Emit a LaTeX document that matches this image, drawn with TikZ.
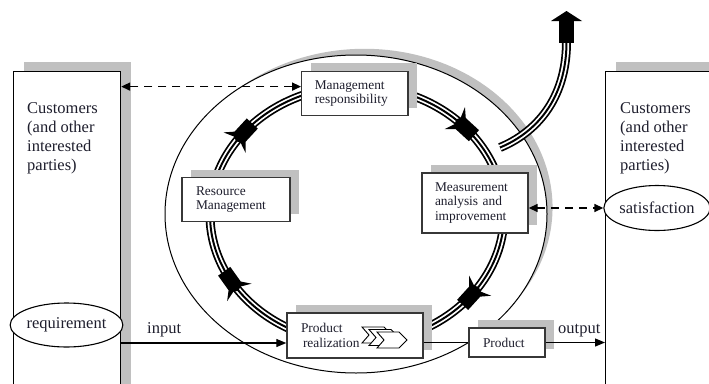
\documentclass[tikz,border=0pt]{standalone}
\usepackage{fontspec}
\setmainfont{Liberation Serif}
\usetikzlibrary{arrows.meta,shadows,shapes.geometric,calc}
\definecolor{shadowgray}{RGB}{192,192,192}
\definecolor{txt}{RGB}{30,30,45}
\definecolor{boxline}{RGB}{55,55,55}
\begin{document}
\begin{tikzpicture}[x=1pt,y=-1pt,
  shd/.style={drop shadow={shadow xshift=9pt, shadow yshift=8pt, fill=shadowgray, opacity=1}},
  procbox/.style={shd, draw=boxline, line width=1.4pt, fill=white, font=\fontsize{13.4}{14.7}\selectfont, text=txt, align=left, inner ysep=0pt},
  custbox/.style={draw=black, line width=1.2pt, fill=white, drop shadow={shadow xshift=10pt, shadow yshift=10pt, fill=shadowgray, opacity=1}, inner sep=0pt, anchor=north west},
  custtext/.style={font=\fontsize{16.5}{19}\selectfont, text=txt, align=left, inner sep=0pt, anchor=north west},
  oval/.style={ellipse, draw=black, line width=1.1pt, fill=white, inner sep=0pt, font=\fontsize{16.5}{19}\selectfont, text=txt},
  lbl/.style={font=\fontsize{16.5}{19}\selectfont, text=txt, inner sep=0pt, anchor=base west},
  arr/.style={line width=1.2pt, -{Triangle[length=10pt,width=8pt]}},
  darr/.style={line width=1.6pt, dash pattern=on 8pt off 6pt, {Triangle[length=9pt,width=8pt]}-{Triangle[length=9pt,width=8pt]}},
  ringout/.style={line width=9pt, black},
  ringmid/.style={line width=5.5pt, white},
  ringin/.style={line width=2pt, black},
  chev/.style={draw=black, line width=0.9pt, fill=white, line join=miter}
]
\useasboundingbox (0,0) rectangle (709,383);
\clip (0,0) rectangle (709,383);

% grey shadow of the outer ellipse
\fill[shadowgray] plot[domain=128:-33, samples=90] ({356+(191+9*sin(1.118*(128-\x)))*cos(\x)},{214-(159+9*sin(1.118*(128-\x)))*sin(\x)}) -- plot[domain=-33:128, samples=90] ({356+191*cos(\x)},{214-159*sin(\x)}) -- cycle;
% outer ellipse
\draw[line width=1pt] (356,214) ellipse [x radius=191pt, y radius=159pt];

% ring (triple line)
\foreach \s in {ringout,ringmid,ringin}
  \draw[\s] (357,214.6) ellipse [x radius=147pt, y radius=128.4pt];

% exit curve with block arrow
\coordinate (exS) at (500,147.5);
\coordinate (exE) at (566.5,42);
\foreach \s in {ringout,ringmid,ringin}
  \draw[\s] (exS) .. controls (535,133) and (566.5,100) .. (exE);
\fill (559,19.5) rectangle (574,43);
\fill (551,21) -- (566.5,11) -- (582,21) -- cycle;

% arrows on the ring
\foreach \t in {141,212,321.5,43.5}{
  \pgfmathsetmacro\px{357+147*cos(\t)}
  \pgfmathsetmacro\py{214.6-128.4*sin(\t)}
  \pgfmathsetmacro\ph{atan2(128.4*cos(\t),-147*sin(\t))}
  \fill[shift={(\px,\py)}, rotate=\ph] (-14,-7.5) -- (4,-7.5) -- (12,-15) -- (8,-4.5) -- (10,0) -- (8,4.5) -- (12,15) -- (4,7.5) -- (-14,7.5) -- cycle;
}

% customers boxes
\node[custbox, minimum width=107pt, minimum height=330pt] (lcust) at (13,71) {};
\node[custbox, minimum width=120pt, minimum height=330pt] (rcust) at (605,71) {};
\node[custtext] (ltext) at (27,102) {Customers\\(and other\\interested\\parties)};
\node[custtext] (rtext) at (620,102) {Customers\\(and other\\interested\\parties)};

% process boxes
\node[procbox, text width=80.3pt, inner xsep=13pt, minimum height=44.3pt] (mr) at (354.9,93.6) {Management\\responsibility};
\node[procbox, text width=80pt, inner xsep=14pt, minimum height=44pt] (rm) at (236,199.5) {Resource\\Management};
\node[procbox, text width=80pt, inner xsep=13pt, minimum height=60pt] (meas) at (475,203) {Measurement\\analysis and\\improvement};
\node[procbox, text width=108pt, inner xsep=14pt, minimum height=45pt] (pr) at (355,335.5) {Product\\\hspace*{2pt}realization};
\node[procbox, text width=48pt, inner xsep=14pt, minimum height=29pt] (prod) at (507,342.5) {Product};

% ovals
\node[oval, minimum width=107pt, minimum height=44pt] (req) at (66.5,325) {requirement};
\node[oval, minimum width=102pt, minimum height=45pt] (sat) at (657,208) {satisfaction};

% chevron icon
\foreach \dx/\dy in {0/0,7/2.5,15/5}
  \draw[chev, shift={(362+\dx,327+\dy)}] (0,0) -- (22,0) -- (30,8) -- (22,16) -- (0,16) -- (7,8) -- cycle;

% connectors
\coordinate (inA) at ([yshift=-7.5pt]pr.west);
\draw[arr] (lcust.east |- inA) -- (inA);
\draw[line width=1.2pt] (pr.east |- prod.west) -- (prod.west);
\draw[arr] (prod.east) -- (prod.east -| rcust.west);
\coordinate (mrA) at ([yshift=7pt]mr.west);
\draw[darr] (mrA) -- (mrA -| lcust.east);
\draw[darr] (sat.west -| meas.east) -- (sat.west);

\node[lbl] (inlbl) at (147,333) {input};
\node[lbl] (outlbl) at (558,333) {output};
\end{tikzpicture}
\end{document}
